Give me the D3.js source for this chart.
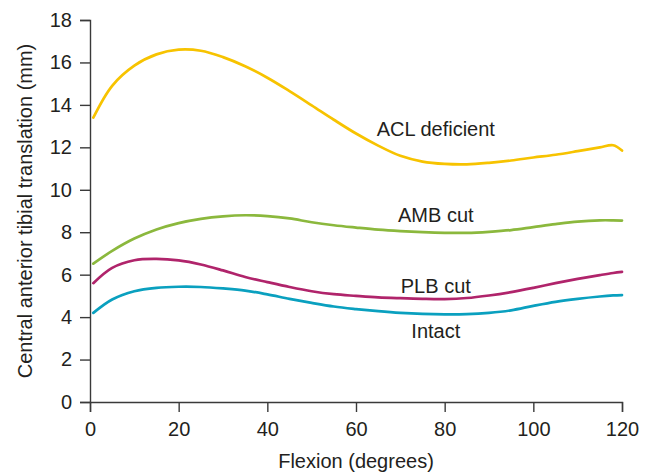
<!DOCTYPE html>
<html>
<head>
<meta charset="utf-8">
<script src="https://cdn.jsdelivr.net/npm/d3@7"></script>
<style>
  body { margin: 0; background: #fff; }
  text { font-family: "Liberation Sans", Arial, sans-serif; fill: #231f20; }
</style>
</head>
<body>
<div id="chart"></div>
<script>
// flexion angles (degrees) sampled along the curves
const flexion = [0.75, 5, 10, 15, 20, 25, 30, 35, 40, 45, 50, 55, 60, 65, 70, 75, 80, 85, 90, 95, 100, 105, 110, 115, 118, 120];

// translation values (mm)
const aclDeficient = [13.4, 14.9, 15.85, 16.38, 16.6, 16.55, 16.25, 15.82, 15.28, 14.65, 13.98, 13.3, 12.65, 12.08, 11.6, 11.33, 11.22, 11.2, 11.27, 11.38, 11.52, 11.65, 11.82, 12.0, 12.1, 11.85];
const ambCut = [6.52, 7.12, 7.7, 8.13, 8.43, 8.63, 8.75, 8.8, 8.76, 8.65, 8.47, 8.33, 8.22, 8.12, 8.05, 8.0, 7.97, 7.97, 8.02, 8.1, 8.24, 8.38, 8.5, 8.56, 8.56, 8.55];
const plbCut = [5.6, 6.32, 6.68, 6.74, 6.67, 6.48, 6.2, 5.89, 5.65, 5.42, 5.22, 5.08, 5.0, 4.93, 4.89, 4.86, 4.85, 4.9, 5.02, 5.18, 5.38, 5.6, 5.8, 5.98, 6.08, 6.13];
const intact = [4.2, 4.83, 5.22, 5.38, 5.43, 5.42, 5.35, 5.25, 5.07, 4.86, 4.67, 4.5, 4.38, 4.28, 4.2, 4.15, 4.13, 4.14, 4.2, 4.32, 4.53, 4.72, 4.86, 4.97, 5.02, 5.04];

const seriesNames = ["ACL deficient", "AMB cut", "PLB cut", "Intact"];
const seriesValues = [aclDeficient, ambCut, plbCut, intact];
const seriesColors = ["#f7c300", "#8bb83d", "#b0246b", "#0aa0bf"];
// where each label sits, in data units
const labelPos = [[78, 12.52], [78, 8.48], [78, 5.15], [78, 3.0]];

const xTicks = [0, 20, 40, 60, 80, 100, 120];
const yTicks = [0, 2, 4, 6, 8, 10, 12, 14, 16, 18];

const W = 651, H = 472;
const margin = {top: 20, right: 29, bottom: 70, left: 90};
const fontSize = "20px";

const svg = d3.select("#chart").append("svg")
    .attr("width", W)
    .attr("height", H);

const x = d3.scaleLinear()
    .domain([0, 120])
    .range([margin.left, W - margin.right]);

const y = d3.scaleLinear()
    .domain([0, 18])
    .range([H - margin.bottom, margin.top]);

// axes
const xAxis = svg.append("g")
    .attr("transform", "translate(0," + y(0) + ")")
    .call(d3.axisBottom(x).tickValues(xTicks).tickSize(10).tickPadding(10).tickFormat(d3.format("d")));

const yAxis = svg.append("g")
    .attr("transform", "translate(" + x(0) + ",0)")
    .call(d3.axisLeft(y).tickValues(yTicks).tickSize(10).tickPadding(8).tickFormat(d3.format("d")));

[xAxis, yAxis].forEach(function(g) {
    g.selectAll("path, line").attr("stroke", "#3a3a3a").attr("stroke-width", 1.4);
    g.selectAll("text").style("font-size", fontSize).attr("fill", "#231f20");
});

// lines
const line = d3.line()
    .x(function(d) { return x(d[0]); })
    .y(function(d) { return y(d[1]); })
    .curve(d3.curveCatmullRom.alpha(0.5));

seriesValues.forEach(function(vals, i) {
    const pts = flexion.map(function(f, j) { return [f, vals[j]]; });
    svg.append("path")
        .datum(pts)
        .attr("fill", "none")
        .attr("stroke", seriesColors[i])
        .attr("stroke-width", 2.7)
        .attr("stroke-linecap", "round")
        .attr("d", line);

    svg.append("text")
        .attr("x", x(labelPos[i][0]))
        .attr("y", y(labelPos[i][1]))
        .attr("text-anchor", "middle")
        .style("font-size", fontSize)
        .text(seriesNames[i]);
});

// axis titles
svg.append("text")
    .attr("x", x(60))
    .attr("y", 468)
    .attr("text-anchor", "middle")
    .style("font-size", fontSize)
    .text("Flexion (degrees)");

svg.append("text")
    .attr("transform", "translate(32,211) rotate(-90)")
    .attr("text-anchor", "middle")
    .style("font-size", fontSize)
    .text("Central anterior tibial translation (mm)");
</script>
</body>
</html>
